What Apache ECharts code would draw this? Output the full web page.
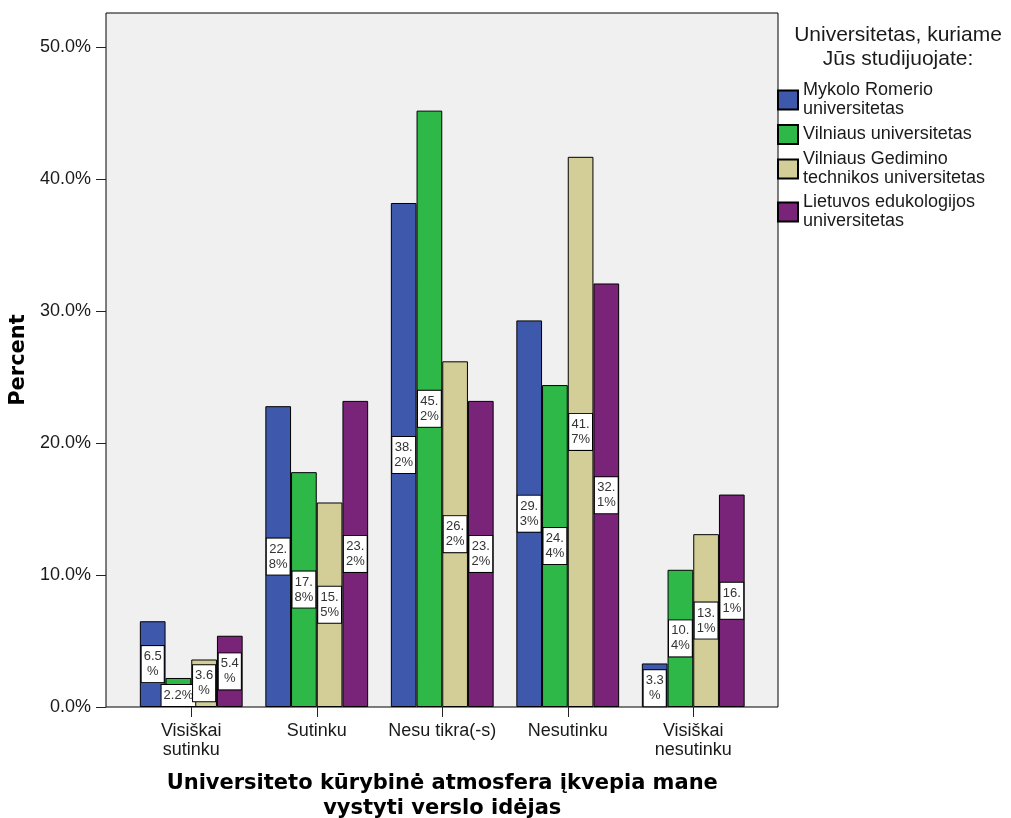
<!DOCTYPE html>
<html>
<head>
<meta charset="utf-8">
<script src="https://cdn.jsdelivr.net/npm/echarts@6/dist/echarts.min.js"></script>
<style>
html,body{margin:0;padding:0;background:#fff;}
#chart{width:1011px;height:818px;}
</style>
</head>
<body>
<div id="chart"></div>
<script>
const categories = ['Visiškai\nsutinku', 'Sutinku', 'Nesu tikra(-s)', 'Nesutinku', 'Visiškai\nnesutinku'];
const seriesNames = [
  'Mykolo Romerio\nuniversitetas',
  'Vilniaus universitetas',
  'Vilniaus Gedimino\ntechnikos universitetas',
  'Lietuvos edukologijos\nuniversitetas'
];
const mru = [6.5, 22.8, 38.2, 29.3, 3.3];
const vu = [2.2, 17.8, 45.2, 24.4, 10.4];
const vgtu = [3.6, 15.5, 26.2, 41.7, 13.1];
const leu = [5.4, 23.2, 23.2, 32.1, 16.1];
const yTicks = [0, 10, 20, 30, 40, 50];
const colors = ['#3E58AC', '#2EB848', '#D3CE97', '#7A2479'];

const FONT = '"Liberation Sans", Arial, sans-serif';
const BOLD = '"DejaVu Sans", sans-serif';
const YMAX = 52.6;

function labelText(v) {
  const s = v.toFixed(1) + '%';
  if (v < 3) return s;
  return s.slice(0, 3) + '\n' + s.slice(3);
}

const chart = echarts.init(document.getElementById('chart'), null, {renderer: 'canvas'});

const allData = [mru, vu, vgtu, leu];
const series = allData.map((arr, i) => ({
  name: seriesNames[i],
  type: 'bar',
  xAxisIndex: 1,
  yAxisIndex: 1,
  barWidth: 25.7,
  barGap: '0%',
  itemStyle: {color: colors[i], borderColor: '#000', borderWidth: 1},
  label: {
    show: true,
    position: 'inside',
    formatter: p => labelText(p.value),
    fontFamily: FONT,
    fontSize: 13,
    lineHeight: 15,
    color: '#333',
    backgroundColor: '#fff',
    borderColor: '#000',
    borderWidth: 1,
    padding: [3, 2]
  },
  data: arr.map(v => v < 3.5 ? {value: v, label: {offset: [0, 3]}} : v)
}));

chart.setOption({
  animation: false,
  backgroundColor: '#fff',
  title: {
    text: 'Universitetas, kuriame\nJūs studijuojate:',
    left: 898,
    top: 23,
    padding: 0,
    textAlign: 'center',
    textStyle: {fontFamily: FONT, fontSize: 21, lineHeight: 24, fontWeight: 'normal', color: '#1a1a1a'}
  },
  legend: {
    orient: 'vertical',
    left: 777,
    top: 81,
    padding: 0,
    itemWidth: 20,
    itemHeight: 19,
    itemGap: 5,
    icon: 'rect',
    data: seriesNames,
    textStyle: {fontFamily: FONT, fontSize: 18, lineHeight: 19, color: '#1a1a1a'}
  },
  grid: [
    {left: 106, top: 13, width: 672, height: 694, show: true, backgroundColor: '#F0F0F0', borderColor: '#000', borderWidth: 1, outerBoundsMode: 'none', containLabel: false},
    {left: 128.5, top: 13, width: 627.5, height: 694, show: false, outerBoundsMode: 'none', containLabel: false}
  ],
  xAxis: [
    {type: 'value', gridIndex: 0, show: false, min: 0, max: 1},
    {
      type: 'category', gridIndex: 1, data: categories,
      axisLine: {show: false},
      axisTick: {show: true, alignWithLabel: true, length: 10, lineStyle: {color: '#222'}},
      axisLabel: {margin: 15, fontFamily: FONT, fontSize: 18, lineHeight: 19, color: '#1a1a1a', interval: 0},
      name: 'Universiteto kūrybinė atmosfera įkvepia mane\nvystyti verslo idėjas',
      nameLocation: 'middle',
      nameGap: 64,
      nameTextStyle: {fontFamily: BOLD, fontWeight: 'bold', fontSize: 21, lineHeight: 25, color: '#000'}
    }
  ],
  yAxis: [
    {
      type: 'value', gridIndex: 0, min: 0, max: YMAX,
      axisLine: {show: false},
      splitLine: {show: false},
      axisTick: {show: true, length: 10, customValues: yTicks, lineStyle: {color: '#222'}},
      axisLabel: {margin: 15, customValues: yTicks, formatter: v => v.toFixed(1) + '%', fontFamily: FONT, fontSize: 18, color: '#1a1a1a'},
      name: 'Percent',
      nameLocation: 'middle',
      nameGap: 71,
      nameTextStyle: {fontFamily: BOLD, fontWeight: 'bold', fontSize: 21, color: '#000'}
    },
    {type: 'value', gridIndex: 1, min: 0, max: YMAX, show: false, splitLine: {show: false}}
  ],
  series: series
});
</script>
</body>
</html>
